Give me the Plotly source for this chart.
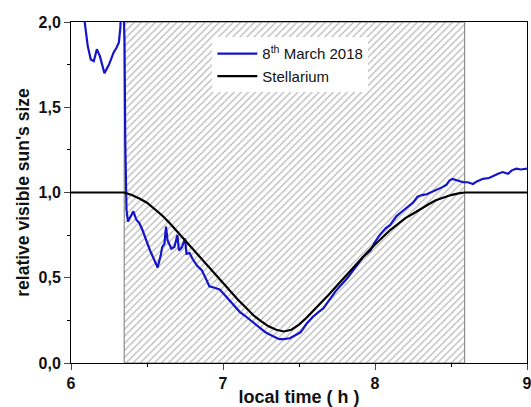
import plotly.graph_objects as go

# Observation window (eclipse) bounds, hours
eclipse_start = 6.35
eclipse_end = 8.59
window_top = 2.0

# Stellarium model curve
stel_t = [6.0, 6.35, 6.40, 6.45, 6.50, 6.55, 6.60, 6.65, 6.70, 6.75, 6.80, 6.85, 6.90, 6.95,
          7.00, 7.05, 7.10, 7.15, 7.20, 7.25, 7.30, 7.35, 7.40, 7.45, 7.50, 7.55, 7.60,
          7.65, 7.70, 7.75, 7.80, 7.85, 7.90, 7.95, 8.00, 8.05, 8.10, 8.15, 8.20, 8.25,
          8.30, 8.35, 8.40, 8.45, 8.50, 8.55, 8.59, 9.0]
stel_v = [1.0, 1.0, 0.985, 0.965, 0.94, 0.905, 0.865, 0.82, 0.77, 0.72, 0.67, 0.62, 0.565, 0.515,
          0.465, 0.415, 0.37, 0.325, 0.28, 0.245, 0.215, 0.195, 0.185, 0.195, 0.225, 0.265, 0.31,
          0.355, 0.405, 0.455, 0.505, 0.555, 0.605, 0.65, 0.695, 0.74, 0.78, 0.815, 0.85, 0.875,
          0.905, 0.93, 0.955, 0.97, 0.985, 0.995, 1.0, 1.0]

# Measured curve, 8th March 2018
meas_t = [6.07, 6.09, 6.11, 6.13, 6.15, 6.17, 6.19, 6.22, 6.25, 6.28, 6.30, 6.315, 6.325, 6.33,
          6.345, 6.352, 6.357, 6.36, 6.365, 6.375, 6.39, 6.41, 6.43, 6.45, 6.47, 6.50, 6.52,
          6.55, 6.57, 6.59, 6.60, 6.615, 6.625, 6.635, 6.65, 6.66, 6.68, 6.70, 6.71, 6.73,
          6.75, 6.76, 6.78, 6.80, 6.83, 6.86, 6.89, 6.91, 6.95, 6.98, 7.02, 7.05, 7.07, 7.09,
          7.11, 7.14, 7.18, 7.22, 7.25, 7.28, 7.31, 7.34, 7.37, 7.40, 7.44, 7.47, 7.51, 7.55,
          7.59, 7.63, 7.66, 7.70, 7.74, 7.78, 7.82, 7.87, 7.92, 7.97, 8.00, 8.03, 8.07, 8.10,
          8.14, 8.18, 8.21, 8.25, 8.28, 8.31, 8.34, 8.38, 8.41, 8.44, 8.47, 8.49, 8.51, 8.54,
          8.58, 8.61, 8.645, 8.67, 8.71, 8.75, 8.78, 8.81, 8.84, 8.875, 8.90, 8.93, 8.96, 9.0]
meas_v = [2.2, 2.0, 1.86, 1.78, 1.77, 1.84, 1.80, 1.70, 1.75, 1.82, 1.85, 1.88, 1.97, 2.1,
          2.1, 1.9, 1.3, 0.98, 0.90, 0.83, 0.86, 0.89, 0.84, 0.82, 0.78, 0.70, 0.66,
          0.60, 0.56, 0.63, 0.68, 0.70, 0.80, 0.72, 0.69, 0.67, 0.68, 0.75, 0.66, 0.68,
          0.73, 0.64, 0.645, 0.61, 0.57, 0.545, 0.49, 0.45, 0.44, 0.43, 0.39, 0.36, 0.34, 0.32,
          0.30, 0.28, 0.25, 0.22, 0.20, 0.18, 0.165, 0.15, 0.14, 0.14, 0.145, 0.16, 0.18, 0.23,
          0.27, 0.30, 0.32, 0.37, 0.42, 0.46, 0.50, 0.56, 0.62, 0.66, 0.71, 0.75, 0.79, 0.81,
          0.86, 0.89, 0.91, 0.94, 0.975, 0.985, 0.99, 1.005, 1.015, 1.03, 1.045, 1.07, 1.08, 1.07,
          1.06, 1.06, 1.05, 1.065, 1.08, 1.085, 1.10, 1.11, 1.12, 1.11, 1.13, 1.14, 1.135, 1.14]

x_ticks = [6, 7, 8, 9]
y_ticks = [0.0, 0.5, 1.0, 1.5, 2.0]
y_ticktext = ["0,0", "0,5", "1,0", "1,5", "2,0"]

FONT = "Liberation Sans, Arial, sans-serif"

fig = go.Figure()

fig.add_trace(go.Scatter(
    x=[eclipse_start, eclipse_end, eclipse_end, eclipse_start, eclipse_start],
    y=[0, 0, window_top, window_top, 0],
    mode="lines", fill="toself", fillcolor="rgba(255,255,255,0)",
    fillpattern=dict(shape="/", size=5, solidity=0.24, fgcolor="#6a6a6a", bgcolor="white"),
    line=dict(color="#777777", width=1), showlegend=False, hoverinfo="skip"))

fig.add_trace(go.Scatter(x=meas_t, y=meas_v, mode="lines", name="8<sup>th</sup> March 2018",
                         line=dict(color="#1515c8", width=2.2)))
fig.add_trace(go.Scatter(x=stel_t, y=stel_v, mode="lines", name="Stellarium",
                         line=dict(color="black", width=2.2)))

fig.update_layout(
    width=531, height=407,
    margin=dict(l=71, r=4, t=22, b=44),
    paper_bgcolor="white", plot_bgcolor="white",
    font=dict(family=FONT, color="#111111"),
    legend=dict(x=0.31, y=0.955, xanchor="left", yanchor="top",
                bgcolor="white", borderwidth=0, font=dict(size=15, family=FONT),
                tracegroupgap=0, itemwidth=40),
)

fig.update_xaxes(
    range=[6, 9], tickvals=x_ticks, ticks="outside", ticklen=6, tickwidth=1,
    ticklabeloverflow="allow", automargin=False,
    showgrid=False, zeroline=False, showline=True, linecolor="black", linewidth=1, mirror=True,
    tickfont=dict(size=16, family=FONT, weight="bold"),
    minor=dict(dtick=0.5, ticks="outside", ticklen=3, tickcolor="black", showgrid=False),
    title=dict(text="local time ( h )", font=dict(size=18, family=FONT, weight="bold"), standoff=0),
)
fig.update_yaxes(
    range=[0, 2], tickvals=y_ticks, ticktext=y_ticktext, ticks="outside", ticklen=6, tickwidth=1,
    automargin=False,
    showgrid=False, zeroline=False, showline=True, linecolor="black", linewidth=1, mirror=True,
    tickfont=dict(size=16, family=FONT, weight="bold"),
    minor=dict(dtick=0.25, ticks="outside", ticklen=3, tickcolor="black", showgrid=False),
    title=dict(text="relative visible sun's size", font=dict(size=17.5, family=FONT, weight="bold"), standoff=4),
)

fig.write_html("out.html")
